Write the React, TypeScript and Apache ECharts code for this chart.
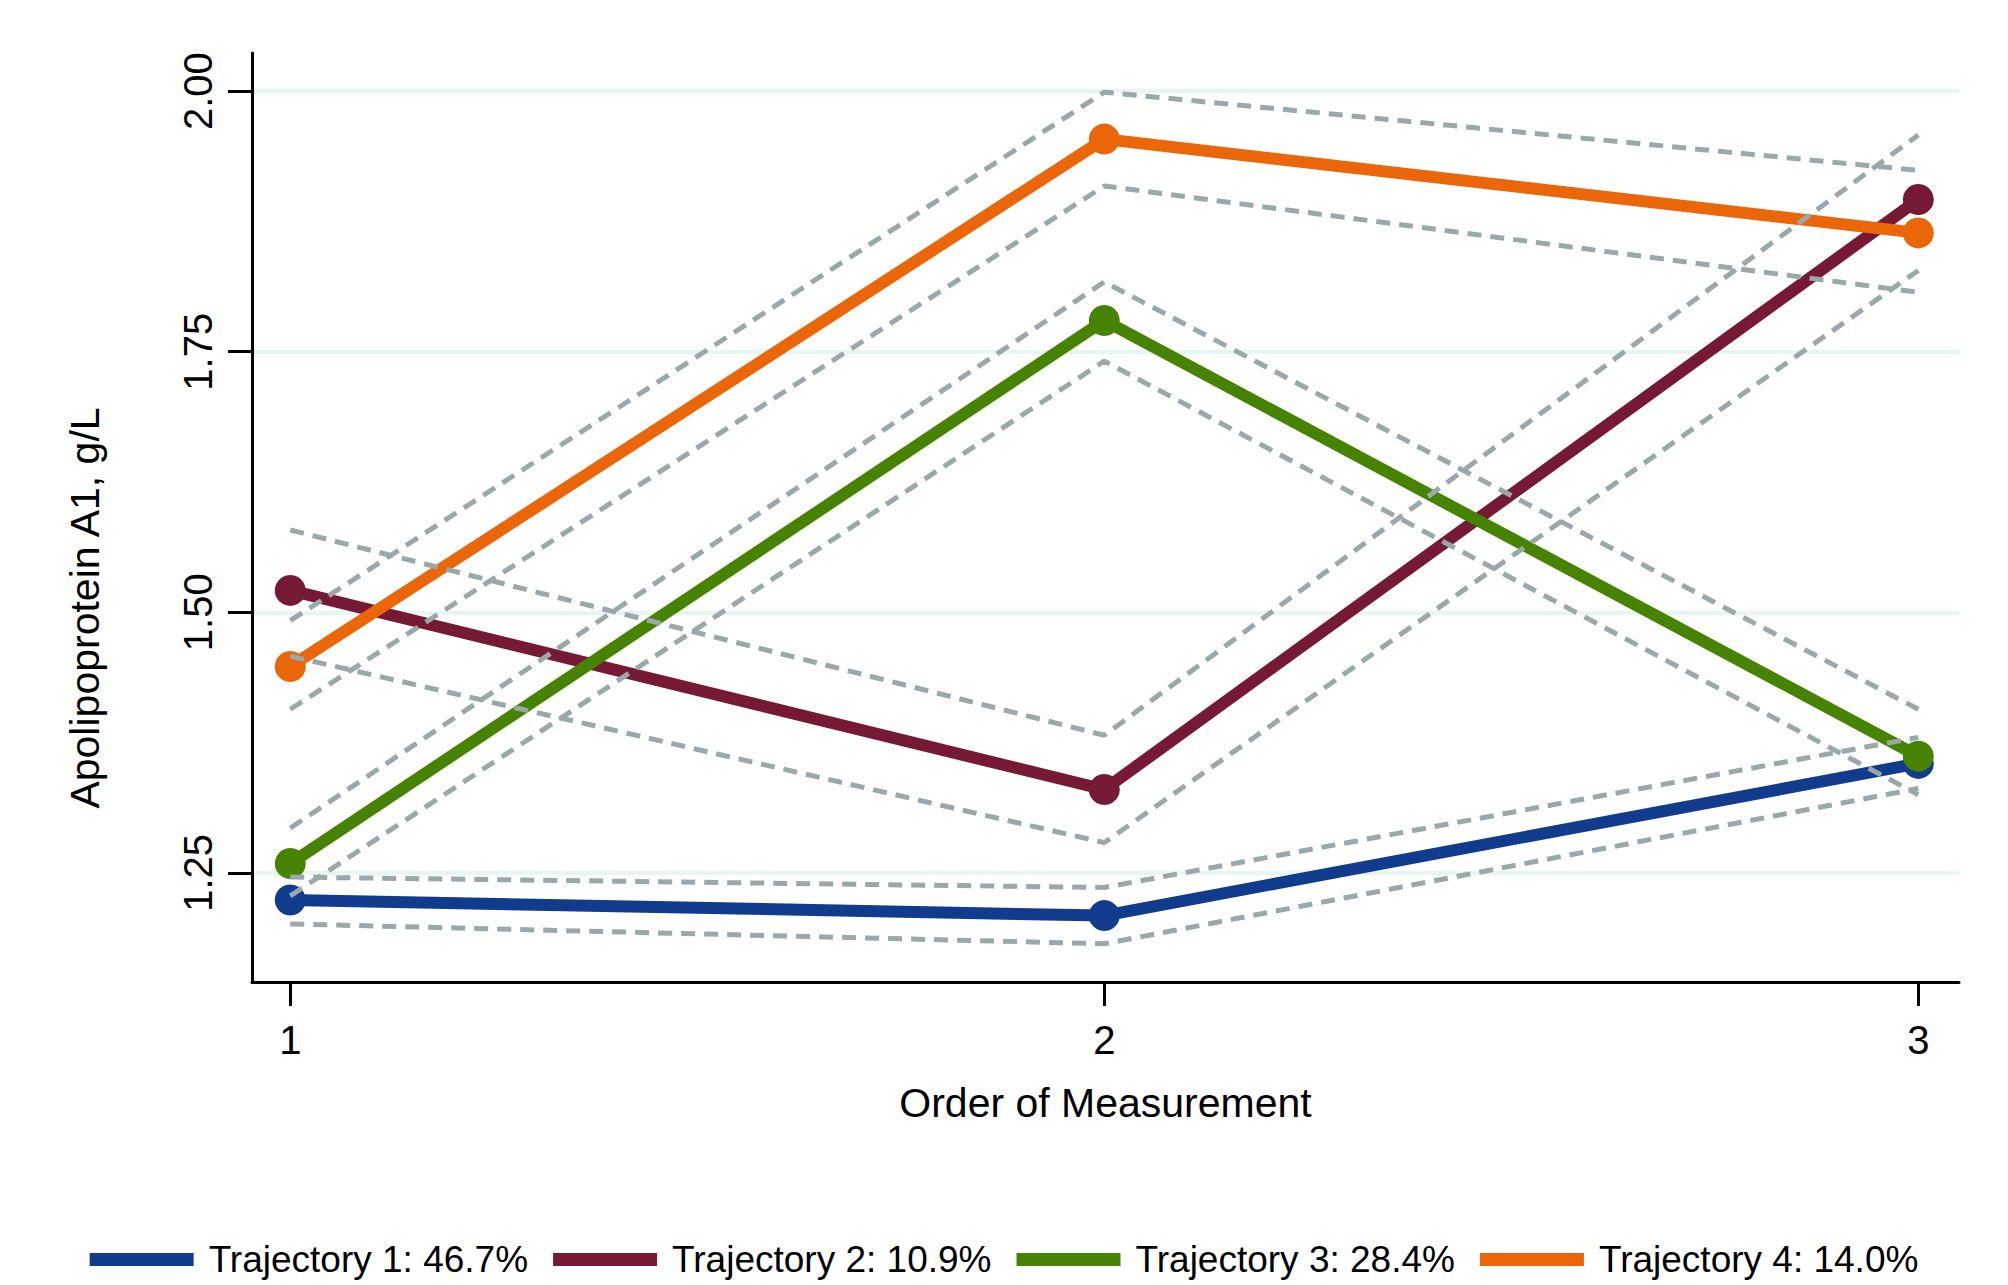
import React, { useEffect, useRef } from "react";
import * as echarts from "echarts";

const xValues = [1, 2, 3];
const seriesNames = [
  "Trajectory 1: 46.7%",
  "Trajectory 2: 10.9%",
  "Trajectory 3: 28.4%",
  "Trajectory 4: 14.0%",
];
const seriesColors = ["#113b8c", "#761934", "#468300", "#ea6608"];
const means = [
  [1.224, 1.209, 1.355],
  [1.521, 1.33, 1.896],
  [1.259, 1.78, 1.362],
  [1.448, 1.954, 1.864],
];
const upperCI = [
  [1.246, 1.236, 1.38],
  [1.579, 1.382, 1.958],
  [1.293, 1.817, 1.407],
  [1.492, 1.999, 1.924],
];
const lowerCI = [
  [1.201, 1.182, 1.331],
  [1.458, 1.279, 1.828],
  [1.228, 1.741, 1.325],
  [1.407, 1.909, 1.807],
];
const yTicks = [1.25, 1.5, 1.75, 2.0];
const xTicks = [1, 2, 3];
const xTitle = "Order of Measurement";
const yTitle = "Apolipoprotein A1, g/L";

const FONT = "'Liberation Sans', Arial, Helvetica, sans-serif";

export default function App() {
  const ref = useRef<HTMLDivElement>(null);
  useEffect(() => {
    if (!ref.current) return;
    const chart = echarts.init(ref.current, undefined, { renderer: "svg" });
    const pairs = (arr: number[]) => xValues.map((x, i) => [x, arr[i]]);
    const mainSeries = means.map((m, i) => ({
      name: seriesNames[i],
      type: "line",
      data: pairs(m),
      symbol: "circle",
      symbolSize: 31,
      itemStyle: { color: seriesColors[i] },
      lineStyle: { color: seriesColors[i], width: 12 },
      z: 3,
    }));
    const ciSeries: any[] = [];
    [upperCI, lowerCI].forEach((set, k) =>
      set.forEach((arr, i) =>
        ciSeries.push({
          name: "ci" + k + i,
          type: "line",
          data: pairs(arr),
          symbol: "none",
          lineStyle: { color: "#98a8ab", width: 5, type: [14, 9] },
          z: 4,
        })
      )
    );
    chart.setOption({
      animation: false,
      backgroundColor: "#ffffff",
      grid: { left: 252, right: 49, top: 53, bottom: 303, containLabel: false },
      xAxis: {
        type: "value",
        min: 0.953,
        max: 3.05,
        name: xTitle,
        nameLocation: "middle",
        nameGap: 100,
        nameTextStyle: { fontSize: 41, fontFamily: FONT, color: "#000" },
        axisLine: { onZero: false, lineStyle: { color: "#000", width: 3 } },
        axisTick: { show: true, length: 24, customValues: xTicks, lineStyle: { color: "#000", width: 3 } },
        axisLabel: { customValues: xTicks, margin: 38, fontSize: 40, fontFamily: FONT, color: "#000" },
        splitLine: { show: false },
      },
      yAxis: {
        type: "value",
        min: 1.1453,
        max: 2.0366,
        axisLine: { show: true, onZero: false, lineStyle: { color: "#000", width: 3 } },
        axisTick: { show: true, length: 24, customValues: yTicks, lineStyle: { color: "#000", width: 3 } },
        axisLabel: {
          customValues: yTicks,
          rotate: 90,
          margin: 34,
          fontSize: 40,
          fontFamily: FONT,
          color: "#000",
          formatter: (v: number) => v.toFixed(2),
        },
        splitLine: { show: true, lineStyle: { color: "#e6f6f0", width: 4 } },
      },
      legend: {
        data: seriesNames,
        left: "center",
        top: 1236,
        icon: "rect",
        itemWidth: 104,
        itemHeight: 13,
        itemGap: 25,
        textStyle: { fontSize: 37, fontFamily: FONT, color: "#000", padding: [0, 0, 0, 10] },
      },
      graphic: [
        {
          type: "text",
          x: 85,
          y: 608,
          rotation: Math.PI / 2,
          style: {
            text: yTitle,
            fontSize: 41,
            fontFamily: FONT,
            fill: "#000",
            align: "center",
            verticalAlign: "middle",
          },
        },
      ],
      series: [...mainSeries, ...ciSeries],
    });
    return () => chart.dispose();
  }, []);
  return (
    <div
      ref={ref}
      style={{ position: "fixed", left: 0, top: 0, width: 2008, height: 1285, background: "#fff" }}
    />
  );
}
